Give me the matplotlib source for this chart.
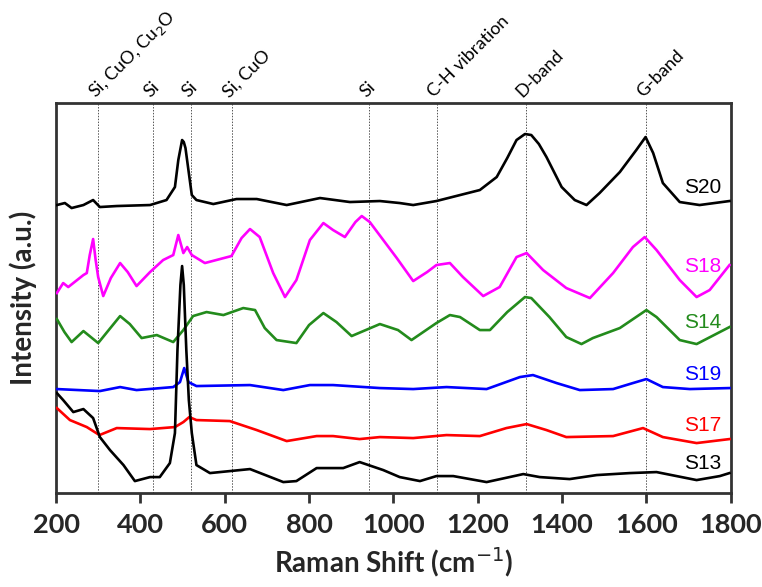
import matplotlib
matplotlib.use("Agg")
import matplotlib.pyplot as plt

# Raman shift (cm-1) and intensity (a.u., offset stacked)
s20_x = [202, 221, 237, 265, 288, 304, 344, 423, 462, 482, 490, 499, 503, 507, 514, 522, 533, 573, 628, 676, 747, 826,
         897, 968, 1015, 1047, 1102, 1205, 1245, 1270, 1292, 1312, 1327, 1345, 1363, 1399, 1430, 1458, 1489, 1537, 1576,
         1598, 1616, 1639, 1679, 1726, 1797]
s20_y = [295, 297, 292, 295, 300, 293, 294, 295, 300, 313, 340, 360, 358, 352, 330, 305, 300, 296, 301, 301, 295, 302,
         298, 299, 297, 295, 299, 310, 323, 342, 360, 366, 365, 356, 343, 313, 300, 295, 307, 328, 350,
         363, 347, 317, 298, 295, 299]

s18_x = [202, 217, 229, 250, 265, 273, 280, 288, 294, 300, 312, 330, 352, 370, 391, 423, 454, 478, 490, 502, 511, 522,
         553, 616, 640, 660, 683, 715, 743, 770, 802, 834, 857, 885, 910, 925, 944, 976, 1008, 1047, 1080, 1102, 1134,
         1165, 1213, 1252, 1292, 1316, 1355, 1410, 1466, 1521, 1568, 1596, 1624, 1679, 1719, 1750, 1797]
s18_y = [207, 217, 213, 220, 225, 227, 245, 261, 240, 223, 204, 222, 237, 228, 214, 228, 240, 245, 265, 247, 253, 245,
         237, 244, 262, 271, 263, 227, 203, 220, 260, 277, 270, 263, 278, 284, 278, 260, 242, 219, 228, 235, 237,
         223, 204, 213, 243, 247, 230, 212, 202, 227, 253, 263, 250, 220, 203, 210, 235]

s14_x = [202, 220, 237, 265, 300, 325, 352, 375, 403, 439, 478, 502, 525, 557, 597, 644, 672, 695, 723, 770, 800, 834,
         865, 901, 968, 1011, 1043, 1102, 1134, 1158, 1205, 1229, 1270, 1312, 1327, 1370, 1410, 1446, 1473, 1537, 1600,
         1624, 1679, 1719, 1797]
s14_y = [181, 168, 158, 169, 157, 170, 184, 176, 162, 165, 158, 170, 184, 188, 185, 192, 190, 172, 160, 157, 175, 187,
         178, 164, 176, 170, 160, 177, 185, 183, 170, 170, 188, 203, 202, 183, 163, 156, 162, 172, 190,
         183, 160, 156, 173]

s19_x = [202, 304, 352, 391, 478, 494, 504, 514, 533, 660, 739, 802, 857, 968, 1047, 1126, 1221, 1300, 1331, 1387,
         1442, 1521, 1568, 1600, 1639, 1703, 1797]
s19_y = [111, 109, 113, 110, 113, 118, 132, 118, 114, 115, 110, 115, 115, 112, 111, 113, 111, 123, 125, 117,
         110, 111, 117, 121, 113, 111, 112]

s17_x = [202, 233, 273, 303, 344, 423, 482, 502, 516, 533, 612, 676, 747, 818, 857, 920, 968, 1047, 1126, 1205, 1268,
         1316, 1363, 1410, 1521, 1592, 1639, 1719, 1797]
s17_y = [92, 80, 73, 65, 72, 71, 73, 78, 83, 80, 79, 70, 59, 64, 64, 61, 63, 62, 65, 64, 72,
         76, 70, 63, 64, 72, 63, 57, 61]

s13_x = [202, 217, 241, 265, 288, 304, 328, 360, 387, 423, 446, 470, 482, 488, 495, 499, 503, 509, 515, 522, 533, 565,
         660, 739, 770, 818, 881, 920, 976, 1015, 1063, 1102, 1142, 1221, 1308, 1347, 1418, 1482, 1561, 1624, 1719,
         1774, 1797]
s13_y = [107, 100, 88, 91, 82, 63, 50, 35, 19, 23, 23, 37, 67, 150, 215, 234, 215, 150, 100, 67, 35, 27,
         31, 18, 19, 32, 32, 38, 30, 23, 19, 24, 24, 18, 26, 23, 21, 25, 27, 28, 20,
         24, 27]

# assignment lines
peak_pos = [300, 430, 520, 617, 942, 1103, 1314, 1600]
peak_names = ["Si, CuO, Cu$_2$O", "Si", "Si", "Si, CuO", "Si", "C-H vibration", "D-band", "G-band"]

series = [
    ("S20", s20_x, s20_y, "black", 313),
    ("S18", s18_x, s18_y, "#ff00ff", 234),
    ("S14", s14_x, s14_y, "#238b1c", 178),
    ("S19", s19_x, s19_y, "#0000ff", 126),
    ("S17", s17_x, s17_y, "#ff0000", 75),
    ("S13", s13_x, s13_y, "black", 37),
]

fig = plt.figure(figsize=(7.62, 5.87), dpi=100)
ax = fig.add_axes([0.0735, 0.160, 0.8855, 0.6645])

for p in peak_pos:
    ax.axvline(p, color="#555555", lw=0.7, ls=(0, (1.5, 1.5)), zorder=1)

for name, xs, ys, col, ly in series:
    ax.plot(xs, ys, color=col, lw=1.9, zorder=3)
    ax.text(1778, ly, name, color=col, ha="right", va="center", fontsize=15,
            family="Liberation Sans", zorder=4)

for p, lab in zip(peak_pos, peak_names):
    ax.text(p - 7, 402, lab, rotation=45, rotation_mode="anchor", ha="left", va="baseline",
            fontsize=13, family="Lato")

ax.set_xlim(200, 1800)
ax.set_ylim(7, 397)
ax.set_xticks(range(200, 1801, 200))
ax.set_yticks([])
ax.tick_params(axis="x", direction="out", length=7, width=2, color="#333333", pad=7)
for lbl in ax.get_xticklabels():
    lbl.set_fontsize(19.5)
    lbl.set_fontweight("bold")
    lbl.set_family("Lato")
    lbl.set_color("#262626")
for s in ax.spines.values():
    s.set_linewidth(2)
    s.set_color("#333333")

ax.set_xlabel("Raman Shift (cm$^{-1}$)", fontsize=20, fontweight="bold", family="Lato",
              color="#262626", labelpad=6)
ax.set_ylabel("Intensity (a.u.)", fontsize=20, fontweight="bold", family="Lato",
              color="#262626", labelpad=14)

plt.savefig("out.png", dpi=100)
